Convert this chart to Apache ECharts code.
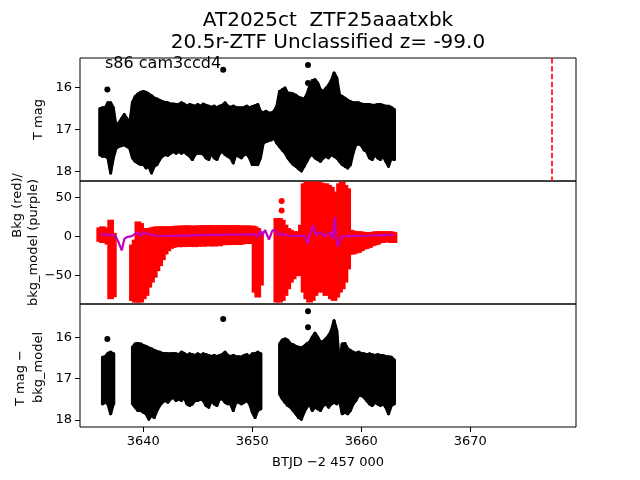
<!DOCTYPE html>
<html><head><meta charset="utf-8">
<script src="https://cdn.jsdelivr.net/npm/echarts@6/dist/echarts.min.js"></script>
<style>html,body{margin:0;padding:0;background:#fff}#c{width:640px;height:480px}</style>
</head><body><div id="c"></div>
<script>
// time grid (BTJD - 2457000) of envelope samples
const tGrid = [3636.0,3636.25,3636.5,3636.75,3637,3637.25,3637.5,3637.75,3638,3638.25,3638.5,3638.75,
3639,3639.25,3639.5,3639.75,3640,3640.25,3640.5,3640.75,3641,3641.25,3641.5,3641.75,
3642,3642.25,3642.5,3642.75,3643,3643.25,3643.5,3643.75,3644,3644.25,3644.5,3644.75,
3645,3645.25,3645.5,3645.75,3646,3646.25,3646.5,3646.75,3647,3647.25,3647.5,3647.75,
3648,3648.25,3648.5,3648.75,3649,3649.25,3649.5,3649.75,3650,3650.25,3650.5,3650.75,
3651,3651.25,3651.5,3651.75,3652,3652.25,3652.5,3652.75,3653,3653.25,3653.5,3653.75,
3654,3654.25,3654.5,3654.75,3655,3655.25,3655.5,3655.75,3656,3656.25,3656.5,3656.75,
3657,3657.25,3657.5,3657.75,3658,3658.25,3658.5,3658.75,3659,3659.25,3659.5,3659.75,
3660,3660.25,3660.5,3660.75,3661,3661.25,3661.5,3661.75,3662,3662.25,3662.5,3662.75,3663];

// Top panel: T mag envelope (bright edge / faint edge)
const topHi = [16.50,16.48,16.48,16.36,16.36,16.48,16.92,16.84,16.74,16.64,16.74,16.86,
16.35,16.21,16.15,16.11,16.09,16.11,16.15,16.19,16.25,16.27,16.30,16.33,
16.35,16.36,16.39,16.39,16.40,16.40,16.36,16.39,16.44,16.40,16.42,16.44,
16.40,16.44,16.39,16.42,16.44,16.47,16.44,16.48,16.44,16.42,16.36,16.44,
16.47,16.44,16.47,16.48,16.48,16.47,16.44,16.48,16.45,16.43,16.40,16.56,
16.60,16.56,16.60,16.60,16.56,16.44,16.09,16.05,16.01,16.13,16.13,16.15,
16.18,16.23,16.25,16.28,16.17,15.97,15.83,15.81,15.89,16.05,16.09,16.02,
15.94,15.83,15.65,15.77,16.17,16.21,16.25,16.30,16.33,16.36,16.36,16.36,
16.39,16.40,16.40,16.40,16.42,16.42,16.40,16.40,16.42,16.44,16.44,16.47,16.52];
const topLo = [17.60,17.63,17.63,17.67,18.03,17.67,17.44,17.40,17.38,17.36,17.40,17.44,
17.67,17.75,17.79,17.83,17.82,17.91,17.87,18.03,17.87,17.83,17.71,17.63,
17.59,17.61,17.56,17.52,17.56,17.52,17.56,17.52,17.58,17.63,17.71,17.59,
17.56,17.56,17.58,17.67,17.71,17.56,17.67,17.71,17.56,17.52,17.59,17.63,
17.67,17.79,17.59,17.63,17.67,17.59,17.58,17.67,17.83,17.83,17.83,17.67,
17.32,17.28,17.26,17.24,17.20,17.32,17.40,17.48,17.55,17.67,17.75,17.83,
17.87,17.93,17.98,17.87,17.75,17.63,17.59,17.67,17.71,17.75,17.67,17.63,
17.67,17.59,17.63,17.67,17.75,17.83,17.87,17.91,17.83,17.55,17.36,17.34,
17.37,17.48,17.52,17.67,17.71,17.59,17.67,17.71,17.63,17.75,17.87,17.67,17.71];
const topDotT = [3636.70, 3647.33, 3655.11, 3655.11];
const topDotM = [16.04, 15.57, 15.46, 15.89];

// Middle panel: Bkg (red) envelope and bkg_model (purple)
const redHi = [8,9.4,8,7,17.9,1,null,null,null,null,null,null,
-13.9,-7.6,15.7,13.6,3.0,7.2,7.2,8,8.9,9.4,9.4,9.4,
9.4,9.4,9.4,9.4,10.3,10.0,10.5,10.3,10.8,10.3,10.5,10.0,
10.6,10.7,10.9,10.5,11.0,10.7,10.4,10.8,10.7,10.9,10.5,10.7,
10.8,10.6,10.9,10.7,10.5,10.3,10.6,10.2,10.3,9.4,7.2,3,
null,null,null,null,null,20,20,17.9,11.5,7.2,5.1,3.0,
3.0,3.0,11.5,64.5,66.6,66.6,66.6,66.6,66.6,65.7,64.5,64.5,
62.4,60,54,20,64.5,66.6,62.4,58.1,5.1,4,3.0,3.0,
3.0,2,2,2,2,3,3,3,3,3,3,3,2];
const redLo = [-4,-5.5,-4.5,-7.6,-77.5,-75,null,null,null,null,null,null,
-79.7,-81.8,-81.8,-81.8,-77.5,-73.3,-62.7,-56.3,-50,-41.5,-35.1,-27.5,
-20.3,-16.1,-13,-11.8,-10.5,-11,-10.2,-10.8,-10,-10.5,-10.2,-10.8,
-10.1,-9.7,-10.2,-9.5,-9.9,-9.6,-10,-9.4,-9.7,-8,-8.4,-7.9,
-8.2,-7.8,-8.1,-8,-7.7,-6.6,-6.8,-6.4,-6.6,-69.1,-75.4,-60,
null,null,null,null,null,-81.8,-81.8,-79.7,-73.3,-64.8,-56.3,-52,
-48,-43.6,-48,-69.1,-77.5,-81.8,-79.7,-73.3,-69.1,-64.8,-69.1,-73.3,
-69.1,-77.5,-79.7,-75.4,-69.1,-64.8,-56.3,-39.4,-20.3,-20.3,-19,-18.2,
-16,-13.9,-13,-11.8,-9.7,-8.6,-7.6,-5.5,-5.5,-4.5,-4.5,-5.5,-5.5];
const redDotT = [3652.69, 3652.69];
const redDotV = [45, 33];
const bkgT = [3636.04,3636.8,3637.41,3637.72,3638.02,3638.26,3638.48,3638.94,3639.24,3639.45,3639.7,3640.0,
3640.46,3640.92,3643.2,3646.26,3650.23,3650.49,3650.71,3650.92,3651.17,3651.53,3651.84,3652.08,3652.39,
3652.69,3653.3,3654.52,3654.83,3655.07,3655.29,3655.59,3655.81,3656.2,3656.66,3657.12,3657.36,3657.58,
3657.7,3657.88,3658.06,3658.34,3659.41,3660.93,3662.77,3663.0];
const bkgV = [2.2,1.7,0.9,-7.6,-18.2,-3.4,-1.2,0,3,5.1,0,5.1,
3,0.9,0.5,1.7,2.2,-1.2,7.2,0.9,8,-4.5,7.2,8,0.9,
3,0.9,0,0.9,-9.7,3,13.6,0.9,5.1,0,5.1,-3.4,24,
-3.4,-13.9,-3.4,0,0.5,0.9,1.7,1.7];

// Bottom panel: T mag - bkg_model envelope
const btmHi = [null,16.48,16.47,16.39,16.36,16.40,null,null,null,null,null,null,
16.24,16.16,16.15,16.16,16.20,16.22,16.26,16.28,16.32,16.34,16.36,16.39,
16.39,16.40,16.40,16.39,16.40,16.42,16.36,16.39,16.44,16.40,16.42,16.44,
16.40,16.44,16.40,16.42,16.44,16.47,16.44,16.47,16.44,16.42,16.36,16.44,
16.47,16.44,16.47,16.47,16.48,16.44,16.42,16.47,16.40,16.40,16.36,16.40,
null,null,null,null,null,null,16.16,16.07,16.04,16.07,16.16,16.18,
16.22,16.24,16.26,16.22,16.16,16.12,16.00,15.90,16.00,16.12,16.10,16.04,
15.96,15.84,15.60,15.84,16.64,16.16,16.15,16.28,16.32,16.36,16.39,16.36,
16.39,16.40,16.42,16.40,16.42,16.44,16.42,16.44,16.44,16.47,16.47,16.48,16.55];
const btmLo = [null,17.61,17.57,17.61,17.85,17.61,null,null,null,null,null,null,
17.61,17.69,17.77,17.77,17.81,17.85,17.98,17.89,17.94,17.77,17.65,17.57,
17.53,17.57,17.49,17.45,17.53,17.49,17.53,17.45,17.61,17.65,17.61,17.53,
17.53,17.49,17.53,17.65,17.69,17.53,17.61,17.65,17.49,17.49,17.57,17.61,
17.61,17.77,17.57,17.57,17.61,17.57,17.53,17.61,17.81,17.94,17.77,17.73,
null,null,null,null,null,null,17.37,17.49,17.57,17.65,17.69,17.77,
17.85,17.94,17.98,17.81,17.69,17.61,17.77,17.69,17.73,17.77,17.65,17.61,
17.69,17.61,17.57,17.61,17.53,17.85,17.81,17.85,17.77,17.61,17.53,17.41,
17.41,17.45,17.53,17.61,17.65,17.57,17.61,17.65,17.61,17.69,17.85,17.65,17.61];
const btmDotT = [3636.70, 3647.33, 3655.11, 3655.11];
const btmDotM = [16.04, 15.56, 15.37, 15.76];

const xTicks = [3640, 3650, 3660, 3670];
const magTicks = [16, 17, 18];
const bkgTicks = [-50, 0, 50];
const markerT = 3677.5;

// data item: [t, hi, lo, tNext, hiNext, loNext] (next = neighbouring sample of the same run, or null)
function band(hi, lo) {
  const d = [];
  for (let i = 0; i < tGrid.length; i++) {
    if (hi[i] == null || lo[i] == null) continue;
    const j = i + 1;
    const has = j < tGrid.length && hi[j] != null && lo[j] != null;
    d.push([tGrid[i], hi[i], lo[i], has ? tGrid[j] : null, has ? hi[j] : null, has ? lo[j] : null]);
  }
  return d;
}
function pts(ts, vs) { return ts.map((t, i) => [t, vs[i]]); }
function polyRender(fill, lw) {
  return function (params, api) {
    const t = api.value(0), a = api.value(1), b = api.value(2);
    const tn = api.value(3);
    let points;
    if (tn != null && !isNaN(tn)) {
      const an = api.value(4), bn = api.value(5);
      points = [api.coord([t, a]), api.coord([tn, an]), api.coord([tn, bn]), api.coord([t, b])];
    } else {
      points = [api.coord([t - 0.04, a]), api.coord([t + 0.04, a]), api.coord([t + 0.04, b]), api.coord([t - 0.04, b])];
    }
    return { type: 'polygon', shape: { points: points }, style: { fill: fill, stroke: fill, lineWidth: lw, lineJoin: 'round' } };
  };
}
function rectRender(fill, padX, padY) {
  return function (params, api) {
    const t = api.value(0), a = api.value(1), b = api.value(2);
    const p1 = api.coord([t - 0.125, a]);
    const p2 = api.coord([t + 0.125, b]);
    const x = Math.min(p1[0], p2[0]) - padX, y = Math.min(p1[1], p2[1]) - padY;
    return { type: 'rect', shape: { x: x, y: y, width: Math.abs(p2[0] - p1[0]) + 2 * padX, height: Math.abs(p2[1] - p1[1]) + 2 * padY }, style: { fill: fill } };
  };
}
const FONT = 'DejaVu Sans';
const tickLbl = { color: '#000', fontSize: 13, fontFamily: FONT, margin: 8 };
function xAx(idx, show) {
  return {
    type: 'value', gridIndex: idx, min: 3634.19, max: 3679.70,
    axisLine: { show: false }, splitLine: { show: false },
    axisTick: { show: show, customValues: xTicks, length: 5, lineStyle: { color: '#000', width: 1 } },
    axisLabel: Object.assign({ show: show, customValues: xTicks, formatter: v => String(v) }, tickLbl)
  };
}
function yAx(idx, min, max, inv, ticks, fmt) {
  return {
    type: 'value', gridIndex: idx, min: min, max: max, inverse: inv,
    axisLine: { show: false }, splitLine: { show: false },
    axisTick: { show: true, customValues: ticks, length: 5, lineStyle: { color: '#000', width: 1 } },
    axisLabel: Object.assign({ customValues: ticks, formatter: fmt }, tickLbl)
  };
}
const minusFmt = v => String(v).replace('-', '\u2212');
const gridBase = { left: 80, width: 496, height: 123, show: true, borderColor: '#000', borderWidth: 1, backgroundColor: 'transparent' };

const chart = echarts.init(document.getElementById('c'), null, { renderer: 'canvas' });
chart.setOption({
  animation: false,
  backgroundColor: '#fff',
  grid: [Object.assign({ top: 58 }, gridBase), Object.assign({ top: 181 }, gridBase), Object.assign({ top: 304 }, gridBase)],
  xAxis: [xAx(0, false), xAx(1, false), xAx(2, true)],
  yAxis: [yAx(0, 15.293, 18.221, true, magTicks, v => String(v)),
          yAx(1, -86.9, 70.7, false, bkgTicks, minusFmt),
          yAx(2, 15.195, 18.17, true, magTicks, v => String(v))],
  series: [
    { type: 'custom', xAxisIndex: 0, yAxisIndex: 0, data: band(topHi, topLo), encode: { x: 0, y: [1, 2] }, renderItem: polyRender('#000', 3), silent: true,
      markLine: { silent: true, symbol: 'none', label: { show: false }, lineStyle: { color: '#ff0000', width: 1.6, type: [5.5, 2.4], opacity: 1 }, data: [{ xAxis: markerT }] } },
    { type: 'scatter', xAxisIndex: 0, yAxisIndex: 0, data: pts(topDotT, topDotM), symbolSize: 6, itemStyle: { color: '#000', opacity: 1 }, silent: true },
    { type: 'custom', xAxisIndex: 1, yAxisIndex: 1, data: band(redHi, redLo), encode: { x: 0, y: [1, 2] }, renderItem: rectRender('#ff0000', 2, 2.5), silent: true },
    { type: 'scatter', xAxisIndex: 1, yAxisIndex: 1, data: pts(redDotT, redDotV), symbolSize: 6, itemStyle: { color: '#ff0000', opacity: 1 }, silent: true },
    { type: 'line', xAxisIndex: 1, yAxisIndex: 1, data: pts(bkgT, bkgV), showSymbol: false, z: 5, lineStyle: { color: '#bf00bf', width: 2.2 }, silent: true },
    { type: 'custom', xAxisIndex: 2, yAxisIndex: 2, data: band(btmHi, btmLo), encode: { x: 0, y: [1, 2] }, renderItem: polyRender('#000', 3), silent: true },
    { type: 'scatter', xAxisIndex: 2, yAxisIndex: 2, data: pts(btmDotT, btmDotM), symbolSize: 6, itemStyle: { color: '#000', opacity: 1 }, silent: true }
  ],
  graphic: [
    { type: 'text', x: 328, y: 21, style: { text: 'AT2025ct  ZTF25aaatxbk', font: '20px DejaVu Sans', fill: '#000', textAlign: 'center', textVerticalAlign: 'middle' } },
    { type: 'text', x: 328, y: 43, style: { text: '20.5r-ZTF Unclassified z= -99.0', font: '20px DejaVu Sans', fill: '#000', textAlign: 'center', textVerticalAlign: 'middle' } },
    { type: 'text', x: 105, y: 64, z: 10, style: { text: 's86 cam3ccd4', font: '16px DejaVu Sans', fill: '#000', textAlign: 'left', textVerticalAlign: 'middle' } },
    { type: 'text', x: 39, y: 119.5, rotation: Math.PI / 2, style: { text: 'T mag', font: '13px DejaVu Sans', fill: '#000', textAlign: 'center', textVerticalAlign: 'middle' } },
    { type: 'text', x: 17.5, y: 173, rotation: Math.PI / 2, style: { text: 'Bkg (red)/', font: '13px DejaVu Sans', fill: '#000', textAlign: 'right', textVerticalAlign: 'middle' } },
    { type: 'text', x: 34, y: 242.5, rotation: Math.PI / 2, style: { text: 'bkg_model (purple)', font: '13px DejaVu Sans', fill: '#000', textAlign: 'center', textVerticalAlign: 'middle' } },
    { type: 'text', x: 21, y: 378, rotation: Math.PI / 2, style: { text: 'T mag \u2212', font: '13px DejaVu Sans', fill: '#000', textAlign: 'center', textVerticalAlign: 'middle' } },
    { type: 'text', x: 39, y: 367.5, rotation: Math.PI / 2, style: { text: 'bkg_model', font: '13px DejaVu Sans', fill: '#000', textAlign: 'center', textVerticalAlign: 'middle' } },
    { type: 'text', x: 328, y: 463, style: { text: 'BTJD \u22122 457 000', font: '13px DejaVu Sans', fill: '#000', textAlign: 'center', textVerticalAlign: 'middle' } }
  ]
});
</script></body></html>
